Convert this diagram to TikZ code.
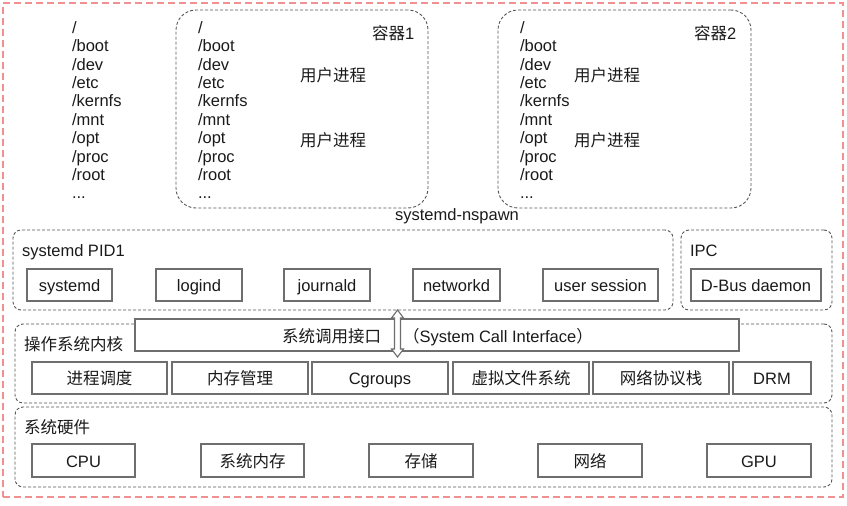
\documentclass[tikz,border=0pt]{standalone}
\usepackage{fontspec}
\setmainfont{Liberation Sans}
\newfontfamily\cjk{Noto Sans CJK SC}
\newcommand\zh[1]{{\cjk #1}}
\usetikzlibrary{calc}
\definecolor{txt}{HTML}{1A1A1A}
\definecolor{boxc}{HTML}{6E6E6E}
\definecolor{grpc}{HTML}{555555}
\definecolor{outc}{HTML}{F09090}
\begin{document}
\begin{tikzpicture}[x=1pt,y=-1pt,
  every node/.style={font=\fontsize{16.5}{18}\selectfont, text=txt, inner sep=0pt, outer sep=0pt},
  box/.style={draw=boxc, line width=1.2pt, fill=white, minimum height=32pt, anchor=center, text height=13pt, text depth=0pt},
  grp/.style={draw=grpc, line width=0.9pt, dash pattern=on 3pt off 2pt, rounded corners=8pt},
  ctr/.style={grp, rounded corners=20pt},
  outer/.style={draw=outc, line width=1.4pt, dash pattern=on 7pt off 4pt},
  lbl/.style={anchor=west, text height=13pt, text depth=0pt},
  fsline/.style={anchor=base west}]
\useasboundingbox (0,0) rectangle (847,506);

% outer frame
\node[outer, minimum width=840pt, minimum height=494pt] (frame) at (423,250) {};

% containers
\node[ctr, minimum width=252pt, minimum height=198pt] (c1) at (302,109) {};
\node[ctr, minimum width=253pt, minimum height=198pt] (c2) at (624.5,109) {};

% file system lists
\foreach \t [count=\i from 0] in {/,/boot,/dev,/etc,/kernfs,/mnt,/opt,/proc,/root}{
  \node[fsline] (h\i) at (72,33.2+18.4*\i) {\t};
  \node[fsline] (a\i) at (198,33.2+18.4*\i) {\t};
  \node[fsline] (b\i) at (520,33.2+18.4*\i) {\t};
}
\node[fsline] (h9) at (72,198.8) {...};
\node[fsline] (a9) at (198,198.8) {...};
\node[fsline] (b9) at (520,198.8) {...};

\node[lbl] (c1t) at (372,33) {\zh{容器}1};
\node[lbl] (c2t) at (694,33) {\zh{容器}2};
\node[lbl] (c1p1) at (300,75) {\zh{用户进程}};
\node[lbl] (c1p2) at (300,140) {\zh{用户进程}};
\node[lbl] (c2p1) at (574,75) {\zh{用户进程}};
\node[lbl] (c2p2) at (574,140) {\zh{用户进程}};
\node[text height=13pt, text depth=0pt] (nspawn) at (457,214) {systemd-nspawn};

% systemd PID1 and IPC groups
\node[grp, minimum width=660pt, minimum height=80pt] (pid1) at (343,270) {};
\node[grp, minimum width=151pt, minimum height=80pt] (ipc) at (756.5,270) {};
\node[lbl] (pid1t) at (22,250) {systemd PID1};
\node[lbl] (ipct) at (690,250) {IPC};
\node[box, minimum width=85pt] (systemd) at (69.5,285) {systemd};
\node[box, minimum width=86pt] (logind) at (199,285) {logind};
\node[box, minimum width=86pt] (journald) at (327,285) {journald};
\node[box, minimum width=87pt] (networkd) at (456.5,285) {networkd};
\node[box, minimum width=115pt] (usess) at (600.5,285) {user session};
\node[box, minimum width=130pt] (dbus) at (756,285) {D-Bus daemon};

% kernel and hardware groups
\node[grp, minimum width=817pt, minimum height=79pt] (kernel) at (423.5,363.5) {};
\node[grp, minimum width=817pt, minimum height=80pt] (hw) at (423.5,447) {};
\node[box, minimum width=604pt] (syscall) at (437,335) {};
\node[anchor=east, text height=13pt, text depth=0pt] (sct1) at (381,336) {\zh{系统调用接口}};
\node[anchor=west, text height=13pt, text depth=0pt] (sct2) at (403,336) {\zh{（}System Call Interface\zh{）}};
\node[lbl] (kernt) at (24,344) {\zh{操作系统内核}};
\node[box, minimum width=135pt] (sched) at (99.5,378) {\zh{进程调度}};
\node[box, minimum width=136pt] (mm) at (240,378) {\zh{内存管理}};
\node[box, minimum width=136pt] (cg) at (380,378) {Cgroups};
\node[box, minimum width=136pt] (vfs) at (521,378) {\zh{虚拟文件系统}};
\node[box, minimum width=136pt] (net) at (661,378) {\zh{网络协议栈}};
\node[box, minimum width=78pt] (drm) at (772,378) {DRM};

\node[lbl] (hwt) at (24,427) {\zh{系统硬件}};
\node[box, minimum width=103pt, minimum height=33pt] (cpu) at (83.5,460.5) {CPU};
\node[box, minimum width=103pt, minimum height=33pt] (ram) at (252.5,460.5) {\zh{系统内存}};
\node[box, minimum width=104pt, minimum height=33pt] (stor) at (421,460.5) {\zh{存储}};
\node[box, minimum width=104pt, minimum height=33pt] (nw) at (590,460.5) {\zh{网络}};
\node[box, minimum width=104pt, minimum height=33pt] (gpu) at (759,460.5) {GPU};

% double arrow between systemd PID1 and kernel
\coordinate (atop) at (397.5,0 |- pid1.south);
\coordinate (abot) at (397.5,357);
\draw[draw=boxc, line width=1.1pt, fill=white, line join=miter]
  (atop) -- ($(atop)+(6,8)$) -- ($(atop)+(3,8)$) -- ($(abot)+(3,-8)$) -- ($(abot)+(6,-8)$)
  -- (abot) -- ($(abot)+(-6,-8)$) -- ($(abot)+(-3,-8)$) -- ($(atop)+(-3,8)$) -- ($(atop)+(-6,8)$) -- cycle;
\end{tikzpicture}
\end{document}
